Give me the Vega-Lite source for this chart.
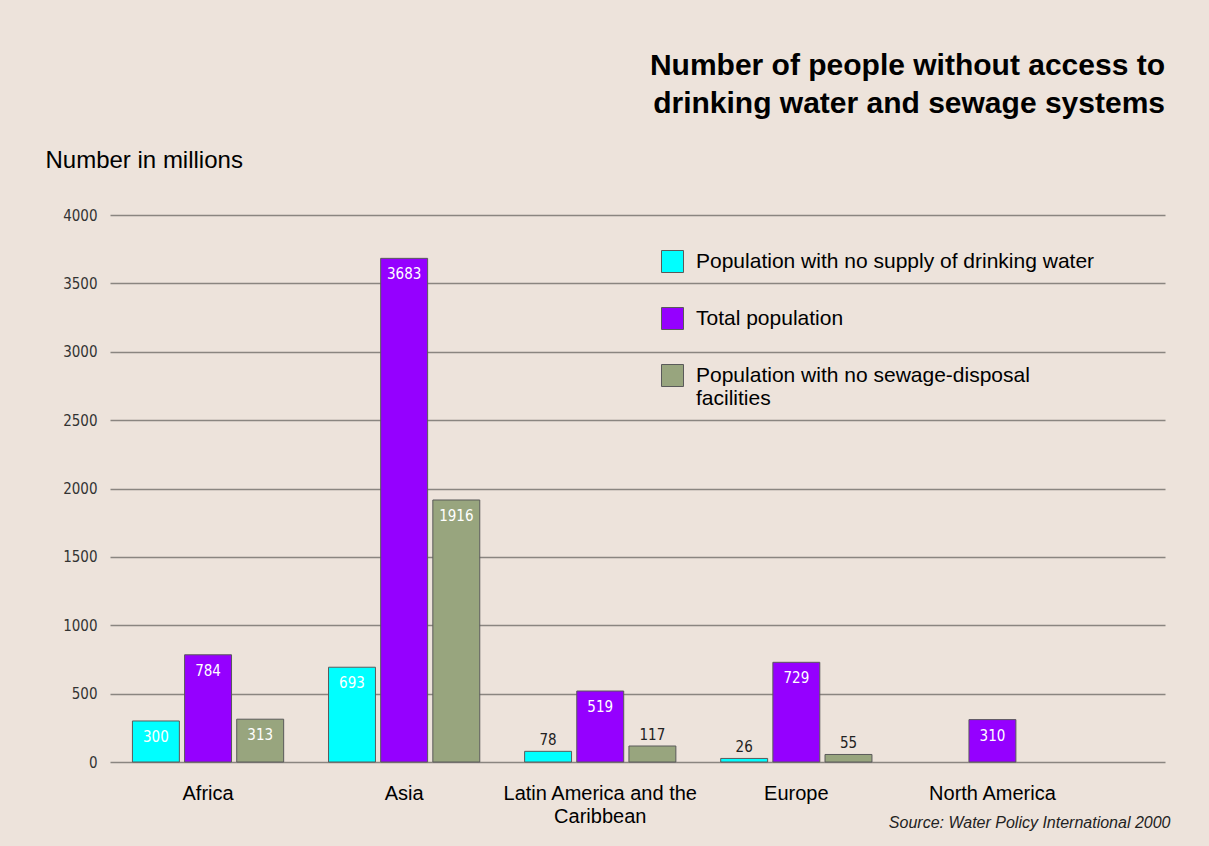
{
  "$schema": "https://vega.github.io/schema/vega-lite/v6.json",
  "autosize": {"type": "none"},
  "padding": {"left": 110, "top": 215, "right": 44, "bottom": 84},
  "width": 1055,
  "height": 547,
  "background": "#EDE3DB",
  "config": {
    "view": {"stroke": null},
    "font": "Liberation Sans"
  },
  "title": {
    "text": ["Number of people without access to", "drinking water and sewage systems"],
    "fontSize": 30,
    "fontWeight": "bold",
    "font": "Liberation Sans",
    "color": "#000000",
    "anchor": "end",
    "frame": "group",
    "lineHeight": 38,
    "offset": 29
  },
  "data": {
    "values": [
      {"region": "Africa", "series": "Population with no supply of drinking water", "value": 300},
      {"region": "Africa", "series": "Total population", "value": 784},
      {"region": "Africa", "series": "Population with no sewage-disposal facilities", "value": 313},
      {"region": "Asia", "series": "Population with no supply of drinking water", "value": 693},
      {"region": "Asia", "series": "Total population", "value": 3683},
      {"region": "Asia", "series": "Population with no sewage-disposal facilities", "value": 1916},
      {"region": "Latin America and the Caribbean", "series": "Population with no supply of drinking water", "value": 78},
      {"region": "Latin America and the Caribbean", "series": "Total population", "value": 519},
      {"region": "Latin America and the Caribbean", "series": "Population with no sewage-disposal facilities", "value": 117},
      {"region": "Europe", "series": "Population with no supply of drinking water", "value": 26},
      {"region": "Europe", "series": "Total population", "value": 729},
      {"region": "Europe", "series": "Population with no sewage-disposal facilities", "value": 55},
      {"region": "North America", "series": "Total population", "value": 310}
    ]
  },
  "encoding": {
    "x": {
      "field": "region",
      "type": "nominal",
      "sort": ["Africa", "Asia", "Latin America and the Caribbean", "Europe", "North America"],
      "scale": {"paddingInner": 0, "paddingOuter": 0.19, "align": 0},
      "axis": {
        "title": "Source: Water Policy International 2000",
        "titleFontStyle": "italic",
        "titleFontWeight": "normal",
        "titleFontSize": 16,
        "titleColor": "#222222",
        "titleAlign": "right",
        "titleAnchor": "end",
        "titleX": 1060,
        "titleY": 60,
        "titleBaseline": "middle",
        "labelAngle": 0,
        "labelFontSize": 20,
        "labelColor": "#000000",
        "labelPadding": 21,
        "labelLineHeight": 23,
        "labelLimit": 400,
        "labelExpr": "datum.label == 'Latin America and the Caribbean' ? ['Latin America and the', 'Caribbean'] : datum.label",
        "domain": false,
        "ticks": false
      }
    },
    "xOffset": {
      "field": "series",
      "type": "nominal",
      "sort": ["Population with no supply of drinking water", "Total population", "Population with no sewage-disposal facilities"],
      "scale": {"domain": ["Population with no supply of drinking water", "Total population", "Population with no sewage-disposal facilities"], "paddingInner": 0.1, "paddingOuter": 0.43}
    },
    "y": {
      "field": "value",
      "type": "quantitative",
      "scale": {"domain": [0, 4000]},
      "axis": {
        "values": [0, 500, 1000, 1500, 2000, 2500, 3000, 3500, 4000],
        "format": "d",
        "title": "Number in millions",
        "titleAngle": 0,
        "titleAlign": "left",
        "titleBaseline": "middle",
        "titleX": -65,
        "titleY": -55,
        "titleFontSize": 24,
        "titleFontWeight": "normal",
        "titleColor": "#000000",
        "labelFont": "DejaVu Sans Condensed",
        "labelFontSize": 15,
        "labelColor": "#333333",
        "labelPadding": 13,
        "domain": false,
        "ticks": false,
        "grid": true,
        "gridColor": "#8a8580",
        "gridWidth": 1.5,
        "gridOpacity": 1
      }
    }
  },
  "layer": [
    {
      "mark": {"type": "bar", "stroke": "#5a5a5a", "strokeWidth": 1},
      "encoding": {
        "color": {
          "field": "series",
          "type": "nominal",
          "scale": {
            "domain": ["Population with no supply of drinking water", "Total population", "Population with no sewage-disposal facilities"],
            "range": ["#00FFFF", "#9500FF", "#98A57E"]
          },
          "legend": {
            "title": null,
            "orient": "none",
            "legendX": 551,
            "legendY": 35,
            "symbolType": "square",
            "symbolSize": 484,
            "symbolStrokeColor": "#5a5a5a",
            "symbolStrokeWidth": 1,
            "symbolOpacity": 1,
            "labelFontSize": 21,
            "labelColor": "#000000",
            "labelOffset": 12,
            "labelLimit": 600,
            "rowPadding": 30,
            "labelExpr": "datum.label == 'Population with no sewage-disposal facilities' ? ['Population with no sewage-disposal', 'facilities'] : datum.label"
          }
        }
      }
    },
    {
      "transform": [{"filter": "datum.value >= 200"}],
      "mark": {"type": "text", "baseline": "middle", "dy": 16, "color": "#ffffff", "font": "DejaVu Sans Condensed", "fontSize": 15},
      "encoding": {"text": {"field": "value", "type": "quantitative"}}
    },
    {
      "transform": [{"filter": "datum.value < 200"}],
      "mark": {"type": "text", "baseline": "bottom", "dy": -3, "color": "#222222", "font": "DejaVu Sans Condensed", "fontSize": 15},
      "encoding": {"text": {"field": "value", "type": "quantitative"}}
    }
  ]
}
